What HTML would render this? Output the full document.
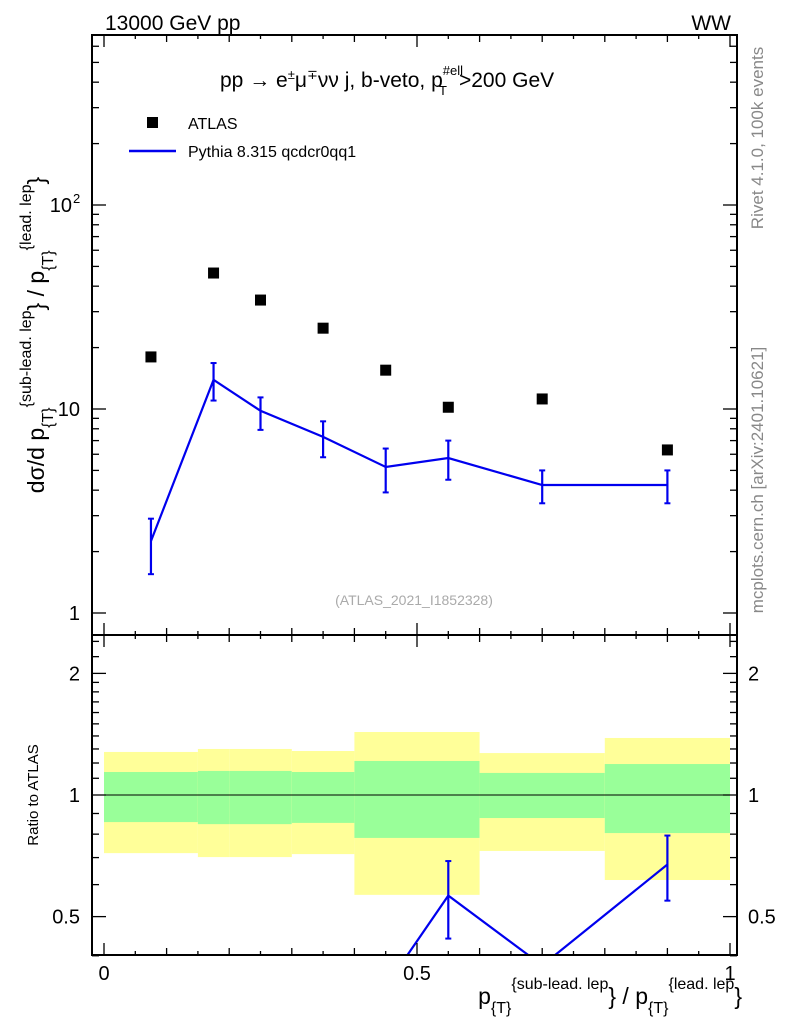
<!DOCTYPE html>
<html><head><meta charset="utf-8"><style>
html,body{margin:0;padding:0;background:#fff;overflow:hidden;width:786px;height:1024px;}
svg{display:block;font-family:"Liberation Sans",sans-serif;}
</style></head><body>
<svg id="c" width="786" height="1024" viewBox="0 0 786 1024" xmlns="http://www.w3.org/2000/svg">
<g id="bands"></g>
<g id="marks"></g>
<g id="axes"></g>
<text x="105" y="30" font-size="21">13000 GeV pp</text>
<text x="731" y="30" font-size="21" text-anchor="end">WW</text>
<text x="220" y="87" font-size="21">pp  →  e<tspan font-size="13" dy="-8">±</tspan><tspan dy="8">μ</tspan><tspan font-size="13" dy="-8">∓</tspan><tspan dy="8">νν j, b-veto, p</tspan><tspan font-size="13" dy="-12">#ell</tspan><tspan font-size="13" dx="-24" dy="20">T</tspan><tspan dx="12" dy="-8">&gt;200 GeV</tspan></text>
<rect x="147" y="117" width="11" height="11" fill="#000"/>
<text x="188" y="129" font-size="16">ATLAS</text>
<line x1="129" y1="151" x2="176" y2="151" stroke="#0000ee" stroke-width="2.5"/>
<text x="188" y="157" font-size="16">Pythia 8.315 qcdcr0qq1</text>
<text x="414" y="605" font-size="14" fill="#aaa" text-anchor="middle">(ATLAS_2021_I1852328)</text>
<text transform="translate(763,138) rotate(-90)" font-size="17" fill="#888" text-anchor="middle">Rivet 4.1.0,  100k events</text>
<text transform="translate(763,480) rotate(-90)" font-size="17" fill="#888" text-anchor="middle">mcplots.cern.ch [arXiv:2401.10621]</text>
<text transform="translate(44,335) rotate(-90)" font-size="23" text-anchor="middle">dσ/d p<tspan font-size="16" dy="9">{T}</tspan><tspan font-size="16" dy="-22">{sub-lead. lep</tspan><tspan dy="13">} / p</tspan><tspan font-size="16" dy="9">{T}</tspan><tspan font-size="16" dy="-22">{lead. lep</tspan><tspan dy="13">}</tspan></text>
<text transform="translate(38,795) rotate(-90)" font-size="15" text-anchor="middle">Ratio to ATLAS</text>
<text x="742" y="1004" font-size="23" text-anchor="end">p<tspan font-size="16" dy="9">{T}</tspan><tspan font-size="16" dy="-24">{sub-lead. lep</tspan><tspan dy="15">} / p</tspan><tspan font-size="16" dy="9">{T}</tspan><tspan font-size="16" dy="-24">{lead. lep</tspan><tspan dy="15">}</tspan></text>
</svg>
<script>
const binEdges=[0,0.15,0.2,0.3,0.4,0.5,0.6,0.8,1.0];
const atlasVals=[18,46.4,34.2,24.9,15.5,10.2,11.2,6.3];
const mcVals=[2.25,13.9,9.8,7.3,5.2,5.75,4.24,4.24];
const mcUp=[2.9,16.8,11.4,8.7,6.4,7.0,5.0,5.0];
const mcDn=[1.55,11.0,7.9,5.8,3.9,4.5,3.45,3.45];
const bandTotUp=[1.278,1.30,1.30,1.285,1.432,1.432,1.27,1.384];
const bandTotDn=[0.718,0.702,0.702,0.714,0.566,0.566,0.727,0.616];
const bandStatUp=[1.14,1.147,1.147,1.14,1.214,1.214,1.134,1.193];
const bandStatDn=[0.857,0.847,0.847,0.853,0.783,0.783,0.877,0.805];
const mainTicks=["1","10","10"];
const ratioTicks=["0.5","1","2"];
const xTicks=["0","0.5","1"];

const NS="http://www.w3.org/2000/svg";
const L=92,R=737,T=35,M=635,B=955;
const X=v=>104+626*v;
const Y=v=>613-204*Math.log10(v);
const YR=v=>795-404*Math.log10(v);
function mk(p,tag,a){const e=document.createElementNS(NS,tag);for(const k in a)e.setAttribute(k,a[k]);p.appendChild(e);return e;}
const bands=document.getElementById('bands'),marks=document.getElementById('marks'),axes=document.getElementById('axes');

for(let i=0;i<atlasVals.length;i++){
  const x0=X(binEdges[i]),x1=X(binEdges[i+1]);
  let r=mk(bands,'rect',{x:x0,y:YR(bandTotUp[i]),width:x1-x0,height:YR(bandTotDn[i])-YR(bandTotUp[i]),fill:'#ffff99'});
  
  
  r=mk(bands,'rect',{x:x0,y:YR(bandStatUp[i]),width:x1-x0,height:YR(bandStatDn[i])-YR(bandStatUp[i]),fill:'#99ff99'});
  
  
}
let l=mk(bands,'line',{x1:L,x2:R,y1:YR(1),y2:YR(1),stroke:'#000','stroke-width':1});



const cx=i=>X((binEdges[i]+binEdges[i+1])/2);
let pts=mcVals.map((v,i)=>cx(i)+','+Y(v)).join(' ');
let pl=mk(marks,'polyline',{points:pts,fill:'none',stroke:'#0000ee','stroke-width':2.2});


for(let i=0;i<mcVals.length;i++){
  const e=mk(marks,'line',{x1:cx(i),x2:cx(i),y1:Y(mcUp[i]),y2:Y(mcDn[i]),stroke:'#0000ee','stroke-width':2.2});
  
  
  for(const v of [mcUp[i],mcDn[i]]){const c=mk(marks,'line',{x1:cx(i)-3,x2:cx(i)+3,y1:Y(v),y2:Y(v),stroke:'#0000ee','stroke-width':2});}
  const s=mk(marks,'rect',{x:cx(i)-5.5,y:Y(atlasVals[i])-5.5,width:11,height:11,fill:'#000'});
  
  
}
mk(marks,'clipPath',{id:'rc'}).appendChild(document.createElementNS(NS,'rect'));
const cr=document.querySelector('#rc rect');cr.setAttribute('x',L);cr.setAttribute('y',M);cr.setAttribute('width',R-L);cr.setAttribute('height',B-M);
const rg=mk(marks,'g',{'clip-path':'url(#rc)'});


pts=mcVals.map((v,i)=>cx(i)+','+YR(v/atlasVals[i])).join(' ');
pl=mk(rg,'polyline',{points:pts,fill:'none',stroke:'#0000ee','stroke-width':2.2});


for(let i=0;i<mcVals.length;i++){
  if(YR(mcVals[i]/atlasVals[i])>B)continue;
  const u=YR(mcUp[i]/atlasVals[i]),d=YR(mcDn[i]/atlasVals[i]);
  const e=mk(rg,'line',{x1:cx(i),x2:cx(i),y1:u,y2:d,stroke:'#0000ee','stroke-width':2.2});
  
  
  for(const y of [u,d]){if(y>B-2)continue;const c=mk(rg,'line',{x1:cx(i)-3,x2:cx(i)+3,y1:y,y2:y,stroke:'#0000ee','stroke-width':2});}
}
for(const [y0,y1] of [[T,M],[M,B]]){const f=mk(axes,'rect',{x:L,y:y0,width:R-L,height:y1-y0,fill:'none',stroke:'#000','stroke-width':2});}
function tk(x1,y1,x2,y2){const t=mk(axes,'line',{x1,y1,x2,y2,stroke:'#000','stroke-width':1.3});}
for(let k=0;k<=20;k++){const v=k*0.05,x=X(v),len=(k%2==0)?(k%10==0?12:7):4;
  tk(x,B,x,B-len);tk(x,M,x,M-len);tk(x,M,x,M+len);tk(x,T,x,T+len);}
xTicks.forEach((s,i)=>{const t=mk(axes,'text',{x:X(i*0.5),y:980,'font-size':20,'text-anchor':'middle'});t.textContent=s;});
for(let d=0;d<3;d++)for(let m=1;m<10;m++){const v=Math.pow(10,d)*m,y=Y(v);if(y<T)continue;const len=m==1?14:7;tk(L,y,L+len,y);tk(R,y,R-len,y);}
mainTicks.forEach((s,i)=>{const t=mk(axes,'text',{x:i==2?72:80,y:Y(Math.pow(10,i))+7,'font-size':20,'text-anchor':'end'});t.textContent=s;
  if(i==2){const sp=mk(axes,'text',{x:73,y:Y(100)-2,'font-size':13});sp.textContent='2';}});
for(const v of [0.4,0.5,0.6,0.7,0.8,0.9,1,1.1,1.2,1.3,1.4,1.5,1.6,1.7,1.8,1.9,2,2.2,2.4]){const y=YR(v),len=(v==0.5||v==1||v==2)?14:7;tk(L,y,L+len,y);tk(R,y,R-len,y);}
ratioTicks.forEach(s=>{const v=parseFloat(s);for(const [x,a] of [[80,'end'],[748,'start']]){const t=mk(axes,'text',{x,y:YR(v)+7,'font-size':20,'text-anchor':a});t.textContent=s;}});
</script>
</body></html>
